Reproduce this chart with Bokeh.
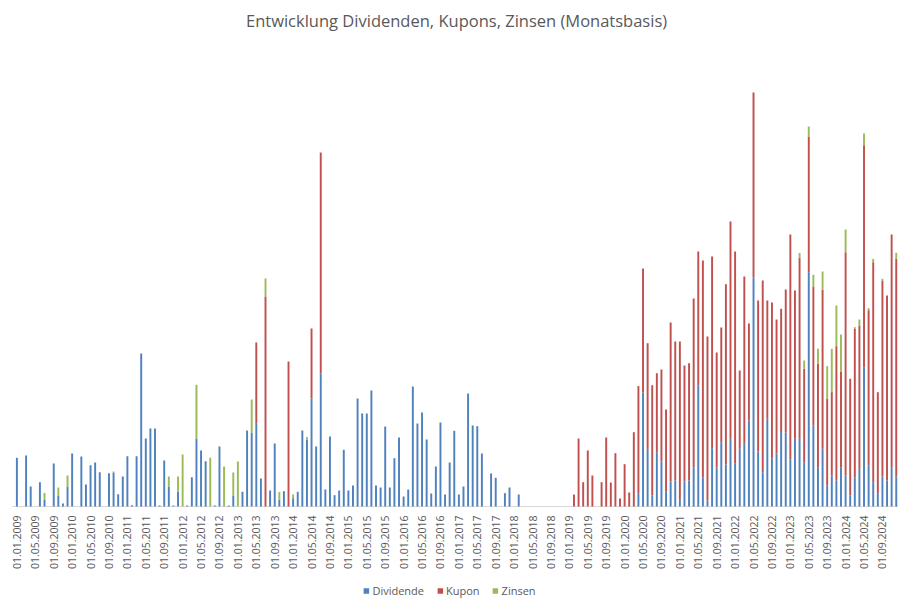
import math
from bokeh.plotting import figure
from bokeh.models import (ColumnDataSource, Range1d, Legend, LegendItem, Label, Span)
from bokeh.core.properties import value
from bokeh.embed import file_html
from bokeh.resources import INLINE

# Monthly categories (01.01.2009 ... 01.12.2024)
years = list(range(2009, 2025))
months = [f"01.{m:02d}.{y}" for y in years for m in range(1, 13)]

# Series values (relative units), one row per year
dividende = [
    48.7, 0, 51, 20, 0, 24.3, 6.7, 0, 43, 10.7, 3, 20,            # 2009
    53, 0, 50, 22, 41.3, 44, 34.3, 0, 33.3, 34, 12.3, 30,         # 2010
    50.3, 1.3, 50.3, 153, 68, 78, 78, 1, 46, 20, 1, 14.7,         # 2011
    0, 1, 29.3, 67.7, 56, 45.3, 0, 1, 60, 0, 1, 11,               # 2012
    0, 14.7, 76, 74, 82.7, 28, 0, 16, 63, 6.7, 15.3, 0,           # 2013
    8.3, 14.7, 76, 66.7, 108, 60, 133, 17, 70, 11.3, 16, 56.7,    # 2014
    16, 21, 108, 93, 93, 116, 21, 19, 80, 19, 48.3, 69,           # 2015
    10, 17, 120, 83, 94, 67, 13, 40, 84, 12, 44, 75.7,            # 2016
    12, 20, 113, 81, 80.3, 53, 0, 33, 28.7, 0, 13.3, 19,          # 2017
    0, 12, 0, 0, 0, 0, 0, 0, 0, 0, 0, 0,                          # 2018
    0, 0, 0, 0, 0, 0, 0, 0, 0, 0, 0, 0,                           # 2019
    0, 0, 0, 12.7, 114, 57.7, 11, 54.3, 45, 15.3, 25, 26,         # 2020
    6.7, 25, 26, 39, 121, 29.3, 6, 58.3, 39, 64.3, 42, 67.7,      # 2021
    42.7, 57.7, 62.7, 86, 229, 55, 34.3, 87.7, 48, 53, 74.5, 74,  # 2022
    47, 67.7, 67.7, 44.3, 234.3, 81, 39.3, 57.7, 21, 31, 26, 39.3,  # 2023
    31, 11, 29.3, 37.7, 139.3, 41, 24.3, 12.7, 30, 26, 39.3, 30,  # 2024
]
kupon = [
    0, 0, 0, 0, 0, 0, 0, 0, 0, 0, 0, 0,                           # 2009
    0, 0, 0, 0, 0, 0, 0, 0, 0, 0, 0, 0,                           # 2010
    0, 0, 0, 0, 0, 0, 0, 0, 0, 0, 0, 0,                           # 2011
    0, 0, 0, 0, 0, 0, 0, 0, 0, 0, 0, 0,                           # 2012
    0, 0, 0, 0, 81.3, 0, 210, 0, 0, 0, 0, 145,                    # 2013
    0, 0, 0, 0, 70, 0, 221, 0, 0, 0, 0, 0,                        # 2014
    0, 0, 0, 0, 0, 0, 0, 0, 0, 0, 0, 0,                           # 2015
    0, 0, 0, 0, 0, 0, 0, 0, 0, 0, 0, 0,                           # 2016
    0, 0, 0, 0, 0, 0, 0, 0, 0, 0, 0, 0,                           # 2017
    0, 0, 0, 0, 0, 0, 0, 0, 0, 0, 0, 0,                           # 2018
    0, 12, 68, 24.3, 56, 31, 0, 24.3, 69, 24, 53.3, 8,            # 2019
    42.3, 14, 74.3, 107.7, 124, 105.6, 110.3, 79, 92, 81.7, 159, 139,        # 2020
    158.3, 116, 117.3, 169, 134, 216.7, 164, 191.7, 115, 114.7, 180.3, 217.3,  # 2021
    212.3, 78.3, 167.3, 97, 185, 151, 191.7, 118.3, 156, 134, 123.2, 143,      # 2022
    225, 148.3, 181, 93.4, 135.7, 139, 103.4, 159, 86.6, 83.4, 134.3, 95.7,    # 2023
    223.3, 116.7, 148.3, 143.3, 222, 155.3, 220, 101.6, 196, 185, 232.7, 217.7,  # 2024
]
zinsen = [
    0, 0, 0, 0, 0, 0, 6.7, 0, 0, 8.3, 0, 11,                      # 2009
    0, 0, 0, 0, 0, 0, 0, 0, 0, 1, 0, 0,                           # 2010
    0, 0, 0, 0, 0, 0, 0, 0, 0, 10, 0, 15.3,                       # 2011
    52, 0, 0, 54, 0, 0, 48.7, 0, 0, 40, 0, 23,                    # 2012
    45, 0, 0, 33, 0, 0, 18, 0, 0, 7.7, 0, 0,                      # 2013
    3.7, 0, 0, 2.7, 0, 0, 0, 0, 0, 0, 0, 0,                       # 2014
    0, 0, 0, 0, 0, 0, 0, 0, 0, 0, 0, 0,                           # 2015
    0, 0, 0, 0, 0, 0, 0, 0, 0, 0, 0, 0,                           # 2016
    0, 0, 0, 0, 0, 0, 0, 0, 0, 0, 0, 0,                           # 2017
    0, 0, 0, 0, 0, 0, 0, 0, 0, 0, 0, 0,                           # 2018
    0, 0, 0, 0, 0, 0, 0, 0, 0, 0, 0, 0,                           # 2019
    0, 0, 0, 0, 0, 0, 0, 0, 0, 0, 0, 0,                           # 2020
    0, 0, 0, 0, 0, 0, 0, 0, 0, 0, 0, 0,                           # 2021
    0, 0, 0, 0, 0, 0, 0, 0, 0, 0, 0, 0,                           # 2022
    0, 0, 4.7, 8.3, 10, 11.7, 15, 18.3, 32.7, 43.3, 40.7, 37,     # 2023
    22.7, 0, 1.7, 6, 11.7, 2, 3.3, 0, 1.7, 0, 0, 6,               # 2024
]

title_text = "Entwicklung Dividenden, Kupons, Zinsen (Monatsbasis)"
series_names = ["Dividende", "Kupon", "Zinsen"]
colors = ["#4F81BD", "#C0504D", "#9BBB59"]

x = list(range(len(months)))
tick_idx = x[::4]
tick_labels = [months[i] for i in tick_idx]
source = ColumnDataSource(dict(x=x, dividende=dividende, kupon=kupon, zinsen=zinsen))

TOP = 506
BOTTOM = -94
p = figure(width=898, height=600, output_backend="svg", toolbar_location=None,
           x_range=Range1d(-3.56, 191.49), y_range=Range1d(BOTTOM, TOP),
           min_border_left=0, min_border_right=0, min_border_top=0, min_border_bottom=0)
p.xaxis.visible = False
p.yaxis.visible = False
p.xgrid.visible = False
p.ygrid.visible = False
p.outline_line_color = None

# baseline of the category axis
p.segment(x0=[-1.0], y0=[0], x1=[191.5], y1=[0], line_color="#d9d9d9", line_width=1)

renderers = p.vbar_stack(["dividende", "kupon", "zinsen"], x="x", width=0.42,
                         color=colors, line_width=0, source=source)

# month tick labels, rotated, under the baseline
p.text(x=tick_idx, y=[-9] * len(tick_idx), text=tick_labels, angle=math.pi / 2,
       text_align="right", text_baseline="middle",
       text_font=value("Open Sans"), text_font_size="10.5px", text_color="#595959")

p.add_layout(Label(x=95.5, y=TOP - 20, text=title_text,
                   text_align="center", text_baseline="middle",
                   text_font="Open Sans", text_font_size="16.5px",
                   text_color="#595959"))

legend = Legend(items=[LegendItem(label=n, renderers=[r]) for n, r in zip(series_names, renderers)],
                orientation="horizontal", location="bottom_center",
                border_line_color=None, background_fill_alpha=0,
                label_text_font="Open Sans", label_text_font_size="11px",
                label_text_color="#595959", glyph_width=7, glyph_height=7,
                label_standoff=3, spacing=12, padding=0, margin=2)
p.add_layout(legend)

open("out.html", "w").write(file_html(p, INLINE))
